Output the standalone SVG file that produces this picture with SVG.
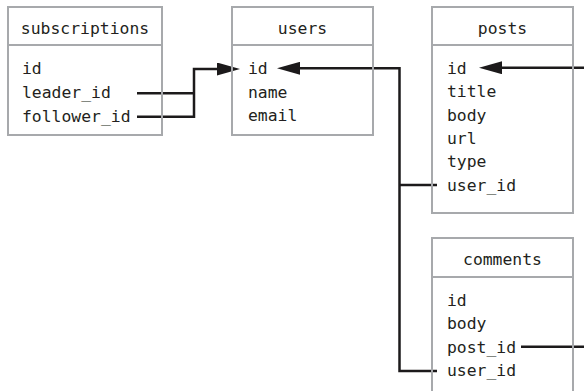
<svg xmlns="http://www.w3.org/2000/svg" width="584" height="391" viewBox="0 0 584 391">
<style>
  .box{fill:none;stroke:#a7a9ac;stroke-width:2}
  .t{font-family:"DejaVu Sans Mono","Liberation Mono",monospace;font-size:16.4px;fill:#231f20}
  .h{text-anchor:middle}
  .c{fill:none;stroke:#1c1a1b;stroke-width:2.5}
</style>
<defs>
  <marker id="arr" markerUnits="userSpaceOnUse" viewBox="0 0 23 13" markerWidth="23" markerHeight="13" refX="15" refY="6.5" orient="auto">
    <path d="M0,0 L23,6.5 L0,13 z" fill="#1c1a1b"/>
  </marker>
</defs>
<g id="connectors">
  <path class="c" d="M137,93.3 H194"/>
  <path class="c" d="M137,116.7 H194 V69 H232" marker-end="url(#arr)"/>
  <path class="c" d="M437,185 H399.5"/>
  <path class="c" d="M437,371 H399.5 V68.3 H285" marker-end="url(#arr)"/>
  <path class="c" d="M584,67.7 H487" marker-end="url(#arr)"/>
  <path class="c" d="M521,346.7 H584"/>
</g>
<g id="subscriptions">
  <rect class="box" x="8" y="7" width="154" height="128"/>
  <line class="box" x1="8" y1="45" x2="162" y2="45"/>
  <text class="t h" x="85" y="33.5">subscriptions</text>
  <text class="t" x="22" y="74">id</text>
  <text class="t" x="22" y="98">leader_id</text>
  <text class="t" x="22" y="121.5">follower_id</text>
</g>
<g id="users">
  <rect class="box" x="232" y="7" width="141" height="128"/>
  <line class="box" x1="232" y1="45" x2="373" y2="45"/>
  <text class="t h" x="302.5" y="33.5">users</text>
  <text class="t" x="248" y="74">id</text>
  <text class="t" x="248" y="97.5">name</text>
  <text class="t" x="248" y="121">email</text>
</g>
<g id="posts">
  <rect class="box" x="432" y="7" width="141" height="206"/>
  <line class="box" x1="432" y1="45" x2="573" y2="45"/>
  <text class="t h" x="502.5" y="33.5">posts</text>
  <text class="t" x="447" y="74">id</text>
  <text class="t" x="447" y="97.3">title</text>
  <text class="t" x="447" y="120.6">body</text>
  <text class="t" x="447" y="143.9">url</text>
  <text class="t" x="447" y="167.2">type</text>
  <text class="t" x="447" y="190.5">user_id</text>
</g>
<g id="comments">
  <rect class="box" x="432" y="238" width="141" height="165"/>
  <line class="box" x1="432" y1="277" x2="573" y2="277"/>
  <text class="t h" x="502.5" y="264.5">comments</text>
  <text class="t" x="447" y="306">id</text>
  <text class="t" x="447" y="329.3">body</text>
  <text class="t" x="447" y="352.6">post_id</text>
  <text class="t" x="447" y="376">user_id</text>
</g>
</svg>
